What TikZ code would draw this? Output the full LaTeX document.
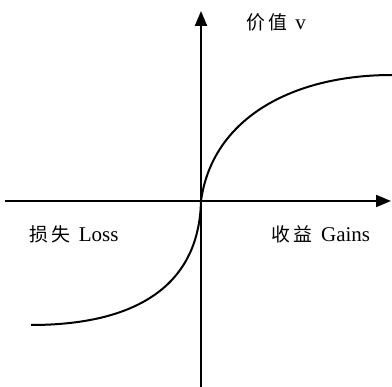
\documentclass[tikz,border=0pt]{standalone}
\usepackage{fontspec}
\setmainfont{Liberation Serif}
\newfontfamily\cjk{Noto Sans CJK SC}[Scale=0.9]
\usetikzlibrary{arrows.meta}
\begin{document}
\begin{tikzpicture}[x=1pt,y=-1pt,
  axis/.style={line width=2pt,-{Triangle[length=15pt,width=12pt]}},
  curve/.style={line width=2pt},
  lbl/.style={font=\fontsize{21}{23}\selectfont,inner sep=0pt}]
\useasboundingbox (0,0) rectangle (392,387);
\coordinate (xl) at (5,201);
\coordinate (xr) at (391,201);
\coordinate (yb) at (201,387);
\coordinate (yt) at (201,11);
\coordinate (o) at (201,201);
\coordinate (g) at (392,75);
\coordinate (l) at (31,325);
\draw[axis] (xl) -- (xr);
\draw[axis] (yb) -- (yt);
\draw[curve] (l) .. controls (130,325) and (199,290) .. (o)
  .. controls (212,120) and (290,75) .. (g);
\node[lbl] (v) at (276,22) {{\cjk 价\,值}\hspace{3pt} v};
\node[lbl] (loss) at (74,234) {{\cjk 损\,失}\hspace{3pt} Loss};
\node[lbl] (gain) at (321,234) {{\cjk 收\,益}\hspace{3pt} Gains};
\end{tikzpicture}
\end{document}
